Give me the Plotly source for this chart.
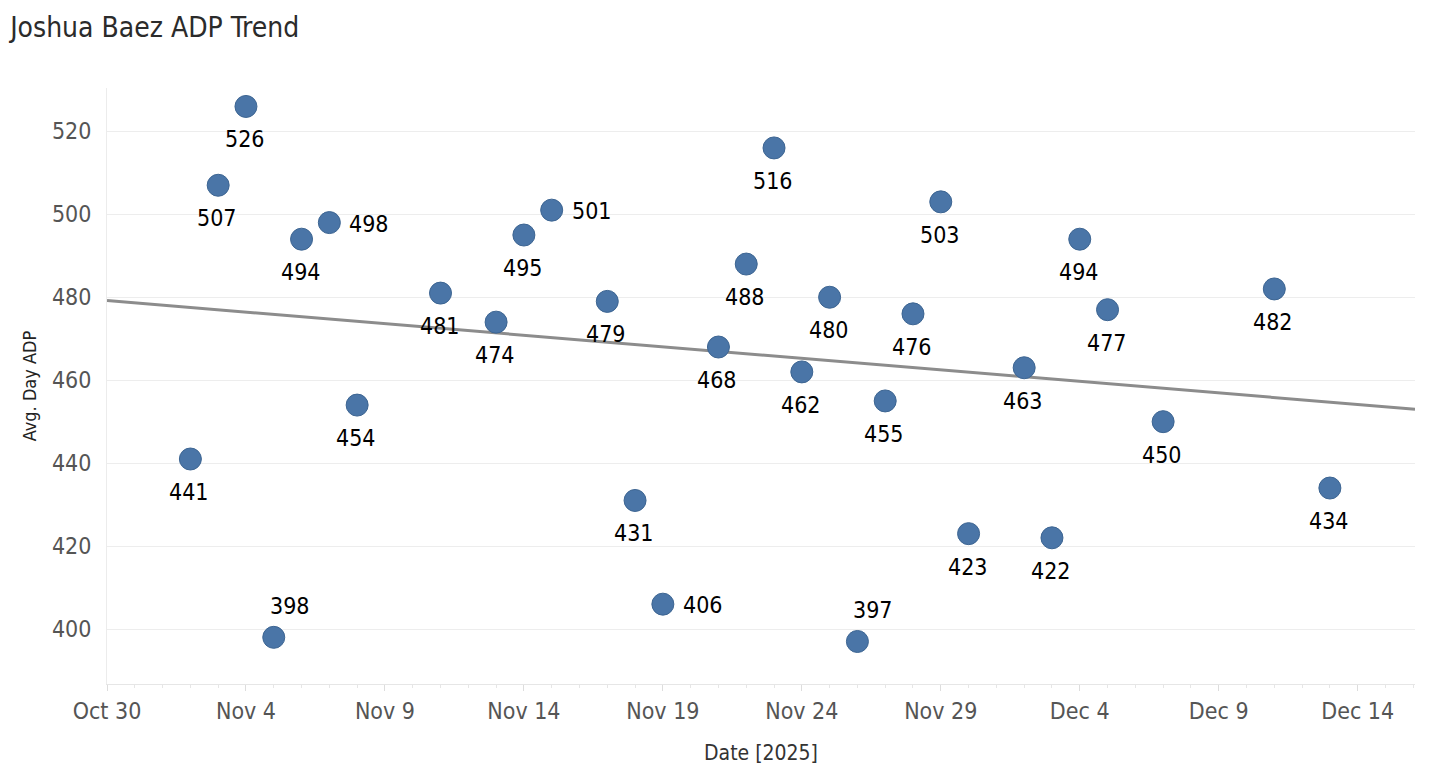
import numpy as np
import pandas as pd
import plotly.graph_objects as go

# ---- data ----
dates = ["2025-11-02", "2025-11-03", "2025-11-04", "2025-11-05", "2025-11-06",
         "2025-11-07", "2025-11-08", "2025-11-11", "2025-11-13", "2025-11-14",
         "2025-11-15", "2025-11-17", "2025-11-18", "2025-11-19", "2025-11-21",
         "2025-11-22", "2025-11-23", "2025-11-24", "2025-11-25", "2025-11-26",
         "2025-11-27", "2025-11-28", "2025-11-29", "2025-11-30", "2025-12-02",
         "2025-12-03", "2025-12-04", "2025-12-05", "2025-12-07", "2025-12-11",
         "2025-12-13"]
adp = [441, 507, 526, 398, 494, 498, 454, 481, 474, 495,
       501, 479, 431, 406, 468, 488, 516, 462, 480, 397,
       455, 476, 503, 423, 463, 422, 494, 477, 450, 482,
       434]
label_side = ["below", "below", "below", "above", "below", "right", "below", "below", "below", "below",
              "right", "below", "below", "right", "below", "below", "below", "below", "below", "above",
              "below", "below", "below", "below", "below", "below", "below", "below", "below", "below",
              "below"]
y_ticks = [400, 420, 440, 460, 480, 500, 520]

x_start = "2025-10-30"
x_end = "2025-12-16 01:30"
y_range = [386.75, 530.45]

FONT = "Liberation Sans Narrow, DejaVu Sans Condensed, sans-serif"

dt = pd.to_datetime(dates)
t0 = pd.Timestamp(x_start)
days = np.array([(d - t0).total_seconds() / 86400 for d in dt])
slope, intercept = np.polyfit(days, np.array(adp, dtype=float), 1)
x_edges = [pd.Timestamp(x_start), pd.Timestamp(x_end)]
edge_days = np.array([(d - t0).total_seconds() / 86400 for d in x_edges])
trend_y = slope * edge_days + intercept

fig = go.Figure()
fig.add_trace(go.Scatter(
    x=x_edges, y=trend_y, mode="lines",
    line=dict(color="#8c8c8c", width=3), hoverinfo="skip", showlegend=False))
fig.add_trace(go.Scatter(
    x=dt, y=adp, mode="markers",
    marker=dict(size=22, color="#4a75a7", line=dict(color="#3d6592", width=1)),
    showlegend=False))

shifts = {
    "below": dict(xshift=-1, yshift=-33, xanchor="center", yanchor="middle"),
    "above": dict(xshift=16, yshift=31, xanchor="center", yanchor="middle"),
    "right": dict(xshift=18, yshift=-1, xanchor="left", yanchor="middle"),
}
for d, v, s in zip(dt, adp, label_side):
    fig.add_annotation(x=d, y=v, text=str(v), showarrow=False,
                       font=dict(family=FONT, size=23, color="#000000"),
                       **shifts[s])

fig.update_layout(
    width=1456, height=781,
    margin=dict(l=99, r=49, t=80, b=105),
    paper_bgcolor="white", plot_bgcolor="white",
    title=dict(text="Joshua Baez ADP Trend", x=0.0015, xanchor="left",
               y=0.976, yanchor="middle",
               font=dict(family=FONT, size=28, color="#2b2b2b")),
    font=dict(family=FONT),
)
fig.update_xaxes(
    range=[x_start, x_end],
    tick0=x_start, dtick=5 * 86400000, tickformat="%b %-d",
    ticks="outside", ticklen=6, tickcolor="#dddddd",
    minor=dict(dtick=86400000, ticks="outside", ticklen=3, tickcolor="#e6e6e6", showgrid=False),
    showgrid=False, showline=True, linecolor="#e6e6e6", linewidth=1,
    tickfont=dict(family=FONT, size=23, color="#555555"),
    title=dict(text="Date [2025]", standoff=22,
               font=dict(family=FONT, size=21, color="#333333")),
    zeroline=False,
)
fig.update_yaxes(
    range=y_range, tickvals=y_ticks,
    showgrid=True, gridcolor="#ededed", gridwidth=1,
    showline=True, linecolor="#ececec", linewidth=1,
    ticks="", ticklabelstandoff=10,
    tickfont=dict(family=FONT, size=23, color="#555555"),
    title=dict(text="Avg. Day ADP", standoff=10,
               font=dict(family=FONT, size=18, color="#222222")),
    zeroline=False,
)

fig.write_html("out.html")
